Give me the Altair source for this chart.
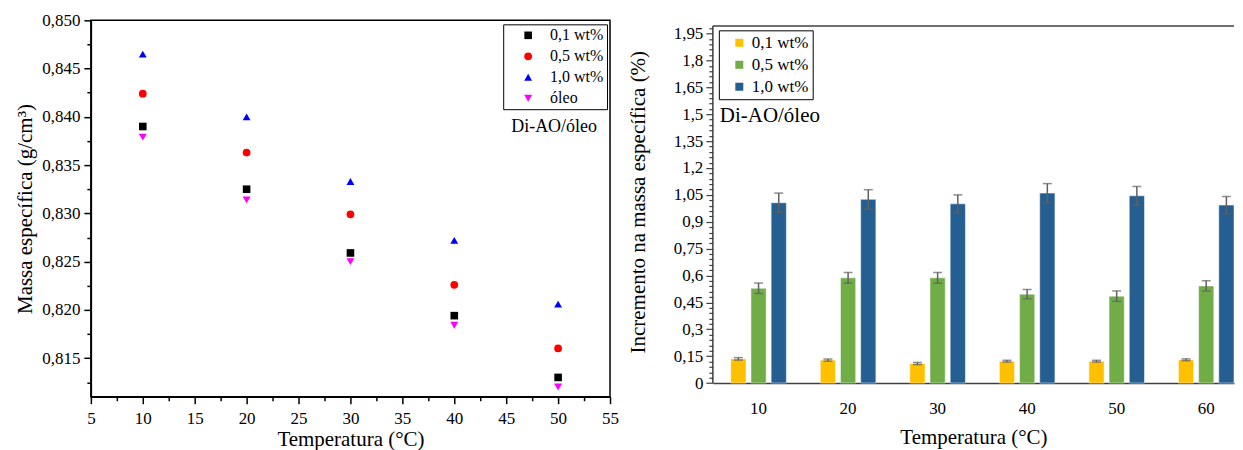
import altair as alt
import pandas as pd

FONT = "Liberation Serif"

# ---------------- left chart data ----------------
temps_left = [10, 20, 30, 40, 50]
dens_01 = [0.8390, 0.8325, 0.8259, 0.8194, 0.8130]
dens_05 = [0.8424, 0.8363, 0.8299, 0.8226, 0.8160]
dens_10 = [0.8465, 0.8400, 0.8333, 0.8272, 0.8206]
dens_oleo = [0.8379, 0.8314, 0.8250, 0.8184, 0.8120]
series_left = ["0,1 wt%", "0,5 wt%", "1,0 wt%", "óleo"]
colors_left = ["#000000", "#FF0000", "#0000FF", "#FF00FF"]
shapes_left = ["square", "circle", "triangle-up", "triangle-down"]
sizes_left = [58, 64, 120, 120]
xticks_left = [5, 10, 15, 20, 25, 30, 35, 40, 45, 50, 55]
xminor_left = [7.5, 12.5, 17.5, 22.5, 27.5, 32.5, 37.5, 42.5, 47.5, 52.5]
yticks_left = [0.815, 0.820, 0.825, 0.830, 0.835, 0.840, 0.845, 0.850]
yminor_left = [0.8125, 0.8175, 0.8225, 0.8275, 0.8325, 0.8375, 0.8425, 0.8475]

# ---------------- right chart data ----------------
temps_right = ["10", "20", "30", "40", "50", "60"]
inc_01 = [0.135, 0.128, 0.109, 0.122, 0.122, 0.130]
err_01 = [0.007, 0.006, 0.006, 0.005, 0.005, 0.005]
inc_05 = [0.529, 0.587, 0.587, 0.496, 0.485, 0.542]
err_05 = [0.029, 0.030, 0.030, 0.026, 0.029, 0.029]
inc_10 = [1.006, 1.025, 1.000, 1.060, 1.045, 0.993]
err_10 = [0.054, 0.054, 0.050, 0.053, 0.052, 0.048]
series_right = ["0,1 wt%", "0,5 wt%", "1,0 wt%"]
colors_right = ["#FFC000", "#70AD47", "#255E91"]
yticks_right = [0, 0.15, 0.3, 0.45, 0.6, 0.75, 0.9, 1.05, 1.2, 1.35, 1.5, 1.65, 1.8, 1.95]
yminor_right = [round(i * 0.03, 2) for i in range(1, 67) if i % 5]

annot = "Di-AO/óleo"

# ---------------- tables ----------------
rows = []
for s, vals in zip(series_left, [dens_01, dens_05, dens_10, dens_oleo]):
    for t, v in zip(temps_left, vals):
        rows.append({"T": t, "d": v, "s": s})
dfl = pd.DataFrame(rows)

rows = []
for s, vals, errs in zip(series_right, [inc_01, inc_05, inc_10], [err_01, err_05, err_10]):
    for t, v, e in zip(temps_right, vals, errs):
        rows.append({"T": t, "v": v, "lo": v - e, "hi": v + e, "s": s})
dfr = pd.DataFrame(rows)

# ---------------- left chart ----------------
LW, LH = 520, 377
xsc_l = alt.Scale(domain=[5, 55], nice=False, zero=False)
ysc_l = alt.Scale(domain=[0.8110, 0.850], nice=False, zero=False)

leg_l = alt.Legend(orient="none", legendX=413, legendY=4, title=None,
                   strokeColor="black", fillColor="white", padding=3,
                   rowPadding=5, labelFont=FONT, labelFontSize=16,
                   labelColor="black", symbolSize=70, symbolOffset=14,
                   labelOffset=14, symbolStrokeWidth=0)

points = alt.Chart(dfl).mark_point(filled=True, opacity=1).encode(
    x=alt.X("T:Q", scale=xsc_l,
            axis=alt.Axis(values=xticks_left, title="Temperatura (°C)",
                          tickSize=7, labelPadding=7, titlePadding=2,
                          domainWidth=1.5, tickWidth=1.5, labelFlush=False)),
    y=alt.Y("d:Q", scale=ysc_l,
            axis=alt.Axis(values=yticks_left, title="Massa específica (g/cm³)",
                          labelExpr="replace(format(datum.value, '.3f'), '.', ',')",
                          tickSize=7, labelPadding=4, titlePadding=6,
                          domainWidth=1.5, tickWidth=1.5)),
    color=alt.Color("s:N", scale=alt.Scale(domain=series_left, range=colors_left), legend=leg_l),
    shape=alt.Shape("s:N", scale=alt.Scale(domain=series_left, range=shapes_left), legend=leg_l),
    size=alt.Size("s:N", scale=alt.Scale(domain=series_left, range=sizes_left), legend=None),
)

minor_l = alt.Chart(dfl).mark_point(opacity=0).encode(
    x=alt.X("T:Q", scale=xsc_l,
            axis=alt.Axis(values=xminor_left, labels=False, title=None, domain=False,
                          tickSize=4, tickWidth=1.5, orient="bottom")),
    y=alt.Y("d:Q", scale=ysc_l,
            axis=alt.Axis(values=yminor_left, labels=False, title=None, domain=False,
                          tickSize=4, tickWidth=1.5, orient="left")),
)

text_l = alt.Chart(pd.DataFrame({"label": [annot]})).mark_text(
    font=FONT, fontSize=18, color="black", align="center", baseline="middle"
).encode(text="label:N", x=alt.value(464), y=alt.value(107))

left = alt.layer(points, minor_l, text_l).resolve_axis(
    x="independent", y="independent"
).properties(width=LW, height=LH,
             view=alt.ViewBackground(stroke="black", strokeWidth=1.5))

# ---------------- right chart ----------------
RW, RH = 522, 363.3
TOP_GAP = 5.7
xsc_r = alt.Scale(domain=temps_right, paddingInner=0.379, paddingOuter=0.1, align=1)
ysc_r = alt.Scale(domain=[0, 2.024], nice=False, zero=True)
xo_r = alt.XOffset("s:N", sort=series_right,
                   scale=alt.Scale(domain=series_right, paddingInner=0.246, paddingOuter=0))

leg_r = alt.Legend(orient="none", legendX=6, legendY=10, title=None,
                   strokeColor="black", fillColor="white", padding=4,
                   rowPadding=4, labelFont=FONT, labelFontSize=17,
                   labelColor="black", symbolType="square", symbolSize=64,
                   symbolOffset=8, labelOffset=4, symbolStrokeWidth=0)

xr = alt.X("T:N", scale=xsc_r, sort=temps_right,
           axis=alt.Axis(title="Temperatura (°C)", labelAngle=0, ticks=False,
                         labelPadding=17, titlePadding=11, domainColor="#404040",
                         domainWidth=1.5))

bars = alt.Chart(dfr).mark_bar(stroke="white", strokeWidth=1, strokeOpacity=0.5).encode(
    x=xr,
    xOffset=xo_r,
    y=alt.Y("v:Q", scale=ysc_r,
            axis=alt.Axis(values=yticks_right, title="Incremento na massa específica (%)",
                          labelExpr="replace(format(datum.value, '~g'), '.', ',')",
                          domain=False, tickSize=7, tickColor="#404040", tickWidth=1.2,
                          labelPadding=3, titlePadding=25)),
    color=alt.Color("s:N", scale=alt.Scale(domain=series_right, range=colors_right),
                    legend=leg_r),
)

minor_r = alt.Chart(dfr).mark_point(opacity=0).encode(
    x=xr,
    y=alt.Y("v:Q", scale=ysc_r,
            axis=alt.Axis(values=yminor_right, labels=False, title=None, domain=False,
                          tickSize=4, tickColor="#404040", tickWidth=1.2, orient="left")),
)

err_rule = alt.Chart(dfr).mark_rule(color="#606060", strokeWidth=1.5).encode(
    x=xr, xOffset=xo_r,
    y=alt.Y("lo:Q", scale=ysc_r, axis=None), y2="hi:Q",
)
cap_lo = alt.Chart(dfr).mark_tick(color="#606060", size=9, thickness=1.5).encode(
    x=xr, xOffset=xo_r, y=alt.Y("lo:Q", scale=ysc_r, axis=None),
)
cap_hi = alt.Chart(dfr).mark_tick(color="#606060", size=9, thickness=1.5).encode(
    x=xr, xOffset=xo_r, y=alt.Y("hi:Q", scale=ysc_r, axis=None),
)

frame_top = alt.Chart(pd.DataFrame({"k": [0]})).mark_rule(color="#404040", strokeWidth=1.5).encode(
    x=alt.value(0), x2=alt.value(RW), y=alt.value(TOP_GAP)
)
frame_left = alt.Chart(pd.DataFrame({"k": [0]})).mark_rule(color="#404040", strokeWidth=1.5).encode(
    x=alt.value(0), y=alt.value(TOP_GAP), y2=alt.value(RH)
)

text_r = alt.Chart(pd.DataFrame({"label": [annot]})).mark_text(
    font=FONT, fontSize=21, color="black", align="left", baseline="middle"
).encode(text="label:N", x=alt.value(7), y=alt.value(96))

right = alt.layer(bars, minor_r, err_rule, cap_lo, cap_hi, frame_top, frame_left, text_r).resolve_axis(
    y="independent"
).properties(width=RW, height=RH)

chart = alt.hconcat(left, right, spacing=7).resolve_scale(
    color="independent", shape="independent", size="independent",
    x="independent", y="independent"
).resolve_legend(color="independent", shape="independent").properties(
    padding={"left": 6, "top": 2, "right": 0, "bottom": 0}
).configure_view(stroke=None).configure_axis(
    labelFont=FONT, titleFont=FONT, labelFontSize=17, titleFontSize=21,
    labelColor="black", titleColor="black", titleFontWeight="normal",
    domainColor="black", tickColor="black", grid=False
)

chart.save("out.html", embed_options={"renderer": "svg", "actions": False})
